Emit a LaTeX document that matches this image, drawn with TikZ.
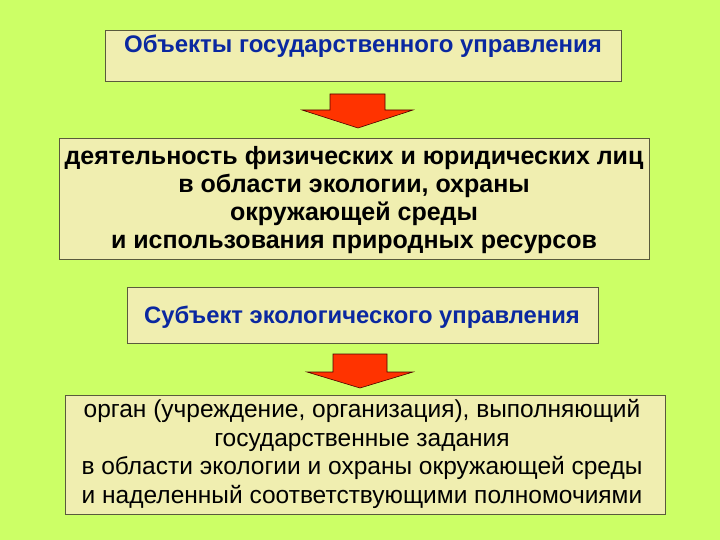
\documentclass[tikz,border=0pt]{standalone}
\usepackage{fontspec}
\setmainfont{Liberation Sans}
\definecolor{bgc}{RGB}{204,255,102}
\definecolor{boxc}{RGB}{240,238,176}
\definecolor{edgec}{RGB}{90,90,60}
\definecolor{bluet}{RGB}{10,40,160}
\definecolor{arrowc}{RGB}{255,51,0}
\tikzset{
  panel/.style={draw=edgec, line width=1pt, fill=boxc},
  bigarrow/.style={fill=arrowc, draw=black!70!red, line width=0.6pt},
}
\begin{document}
\begin{tikzpicture}[x=1pt,y=-1pt]
\fill[bgc] (0,0) rectangle (720,540);
\useasboundingbox (0,0) rectangle (720,540);
% box 1
\draw[panel] (105,31) rectangle (621,82);
\node[font=\bfseries\fontsize{24}{28}\selectfont, text=bluet] (t1) at (363,46) {Объекты государственного управления};
% arrow 1
\draw[bigarrow] (330,94) -- (385,94) -- (385,110) -- (413,110) -- (358,128) -- (302,110) -- (330,110) -- cycle;
% box 2
\draw[panel] (59,139) rectangle (649,259);
\node[font=\bfseries\fontsize{25}{28}\selectfont, align=center] (t2) at (354,200) {деятельность физических и юридических лиц\\в области экологии, охраны\\окружающей среды\\и использования природных ресурсов};
% box 3
\draw[panel] (127,287) rectangle (598,343);
\node[font=\bfseries\fontsize{23.8}{28}\selectfont, text=bluet] (t3) at (362,317) {Субъект экологического управления};
% arrow 2
\draw[bigarrow] (333,354) -- (387,354) -- (387,372) -- (413,372) -- (360,388) -- (307,372) -- (333,372) -- cycle;
% box 4
\draw[panel] (65,395) rectangle (665,514);
\node[font=\fontsize{24.5}{28.5}\selectfont, align=center] (t4) at (362,454) {орган (учреждение, организация), выполняющий\\государственные задания\\в области экологии и охраны окружающей среды\\и наделенный соответствующими полномочиями};
\end{tikzpicture}
\end{document}
